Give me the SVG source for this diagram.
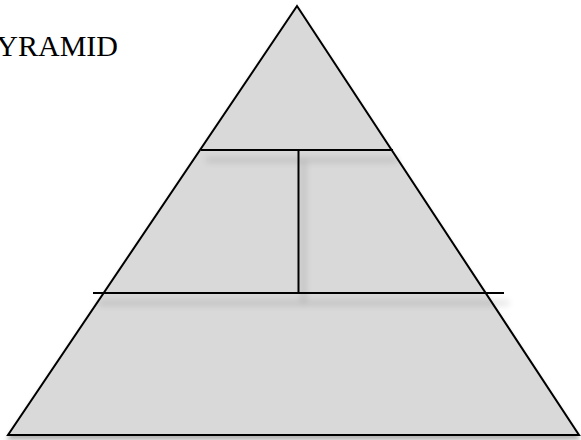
<svg xmlns="http://www.w3.org/2000/svg" width="581" height="440" viewBox="0 0 581 440">
  <defs>
    <filter id="shadow" x="-10%" y="-20%" width="125%" height="150%">
      <feGaussianBlur in="SourceAlpha" stdDeviation="3.5"/>
      <feOffset dx="5" dy="10" result="b"/>
      <feComponentTransfer><feFuncA type="linear" slope="0.3"/></feComponentTransfer>
      <feMerge><feMergeNode/><feMergeNode in="SourceGraphic"/></feMerge>
    </filter>
    <filter id="tshadow" x="-10%" y="-10%" width="120%" height="130%">
      <feGaussianBlur in="SourceAlpha" stdDeviation="2"/>
      <feOffset dx="0" dy="4" result="b"/>
      <feComponentTransfer><feFuncA type="linear" slope="0.3"/></feComponentTransfer>
      <feMerge><feMergeNode/><feMergeNode in="SourceGraphic"/></feMerge>
    </filter>
  </defs>
  <style>
    .tri { fill: #d9d9d9; stroke: #000; stroke-width: 2; stroke-linejoin: miter; }
    .div { stroke: #000; stroke-width: 2; fill: none; }
    .title { font-family: "Liberation Serif", "Times New Roman", serif; font-size: 30px; fill: #000; }
  </style>
  <rect width="581" height="440" fill="#fff"/>
  <g id="title">
    <text class="title" x="118" y="56" text-anchor="end">PYRAMID</text>
  </g>
  <g id="pyramid" filter="url(#tshadow)">
    <polygon class="tri" points="297,6 8,435 579,435"/>
  </g>
  <g id="dividers" filter="url(#shadow)">
    <line class="div" x1="201" y1="150" x2="393" y2="150"/>
    <line class="div" x1="298.5" y1="150" x2="298.5" y2="293"/>
    <line class="div" x1="93" y1="293" x2="504" y2="293"/>
  </g>
</svg>
